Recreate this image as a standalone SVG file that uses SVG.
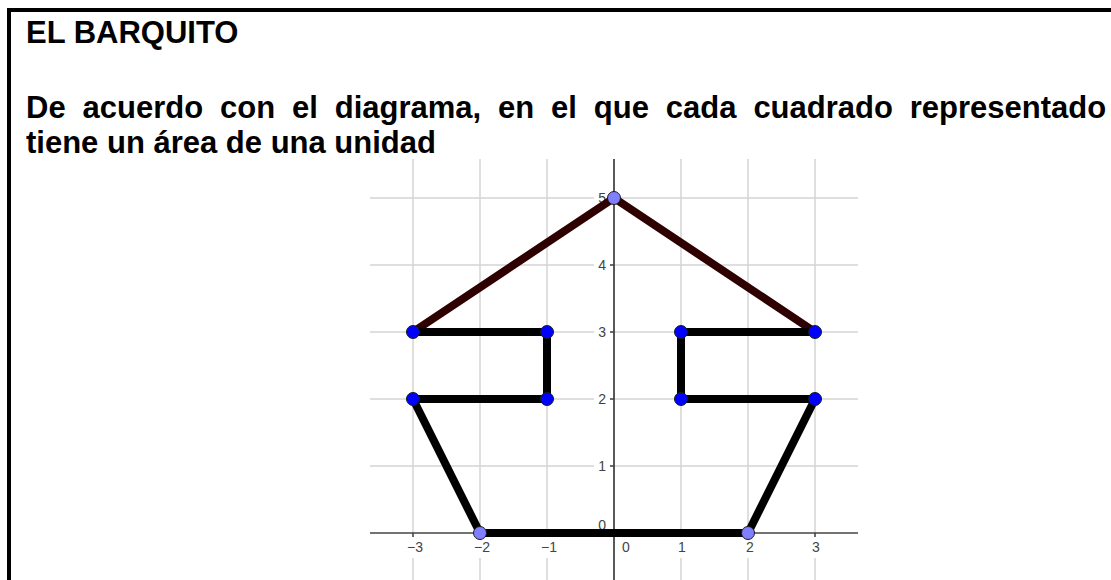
<svg xmlns="http://www.w3.org/2000/svg" width="1111" height="580" viewBox="0 0 1111 580">
<style>
.txt{font-family:"Liberation Sans",Arial,sans-serif;font-weight:bold;font-size:31px;fill:#000}
.grid line{stroke:#d4d4d4;stroke-width:1.5}
.axis{stroke:#444;stroke-width:1.5}
.yaxis{stroke:#222;stroke-width:1.5}
.lbl{font-family:"Liberation Sans",Arial,sans-serif;font-size:14px;fill:#444}
.seg{stroke:#000;stroke-width:8;stroke-linecap:round}
.roof{stroke:#2e0000;stroke-width:8;stroke-linecap:round}
.pt{fill:#0000ff;stroke:#1a1a1a;stroke-width:1}
.pt2{fill:#7f7fff;stroke:#1a1a1a;stroke-width:1}
</style>
<rect width="1111" height="580" fill="#fff"/>
<g id="frame">
<rect x="7" y="8" width="1104" height="4" fill="#000"/>
<rect x="7" y="8" width="4" height="572" fill="#000"/>
</g>
<g id="texts">
<text class="txt" x="26" y="43">EL BARQUITO</text>
<text class="txt" x="26" y="118" word-spacing="8.27">De acuerdo con el diagrama, en el que cada cuadrado representado</text>
<text class="txt" x="26" y="153">tiene un área de una unidad</text>
</g>
<g id="grid" class="grid">
<line x1="413" y1="159" x2="413" y2="580"/>
<line x1="480" y1="159" x2="480" y2="580"/>
<line x1="547" y1="159" x2="547" y2="580"/>
<line x1="681" y1="159" x2="681" y2="580"/>
<line x1="748" y1="159" x2="748" y2="580"/>
<line x1="815" y1="159" x2="815" y2="580"/>
<line x1="370" y1="198" x2="858" y2="198"/>
<line x1="370" y1="265" x2="858" y2="265"/>
<line x1="370" y1="332" x2="858" y2="332"/>
<line x1="370" y1="399" x2="858" y2="399"/>
<line x1="370" y1="466" x2="858" y2="466"/>
</g>
<g id="label-bg" fill="#fff">
<rect x="405" y="537" width="18" height="21"/>
<rect x="472" y="537" width="18" height="21"/>
<rect x="539" y="537" width="18" height="21"/>
<rect x="674" y="537" width="14" height="21"/>
<rect x="741" y="537" width="14" height="21"/>
<rect x="808" y="537" width="14" height="21"/>
<rect x="594" y="190" width="16" height="17"/>
<rect x="594" y="257" width="16" height="17"/>
<rect x="594" y="324" width="16" height="17"/>
<rect x="594" y="391" width="16" height="17"/>
<rect x="594" y="458" width="16" height="17"/>
</g>
<g id="axes">
<line class="axis" x1="370" y1="533" x2="858" y2="533"/>
<line class="yaxis" x1="614" y1="159" x2="614" y2="580"/>
<g class="axis">
<line x1="413" y1="533" x2="413" y2="537"/>
<line x1="480" y1="533" x2="480" y2="537"/>
<line x1="547" y1="533" x2="547" y2="537"/>
<line x1="681" y1="533" x2="681" y2="537"/>
<line x1="748" y1="533" x2="748" y2="537"/>
<line x1="815" y1="533" x2="815" y2="537"/>
<line x1="610" y1="198" x2="614" y2="198"/>
<line x1="610" y1="265" x2="614" y2="265"/>
<line x1="610" y1="332" x2="614" y2="332"/>
<line x1="610" y1="399" x2="614" y2="399"/>
<line x1="610" y1="466" x2="614" y2="466"/>
</g>
<g class="lbl" text-anchor="middle">
<text x="415" y="552">−3</text>
<text x="482" y="552">−2</text>
<text x="549" y="552">−1</text>
<text x="626" y="552">0</text>
<text x="682" y="552">1</text>
<text x="750" y="552">2</text>
<text x="816" y="552">3</text>
</g>
<g class="lbl" text-anchor="end">
<text x="606" y="203">5</text>
<text x="606" y="270">4</text>
<text x="606" y="337">3</text>
<text x="606" y="404">2</text>
<text x="606" y="471">1</text>
<text x="606" y="530">0</text>
</g>
</g>
<g id="connectors">
<line class="roof" x1="413" y1="332" x2="614" y2="198"/>
<line class="roof" x1="614" y1="198" x2="815" y2="332"/>
<line class="seg" x1="413" y1="332" x2="547" y2="332"/>
<line class="seg" x1="547" y1="332" x2="547" y2="399"/>
<line class="seg" x1="547" y1="399" x2="413" y2="399"/>
<line class="seg" x1="413" y1="399" x2="480" y2="533"/>
<line class="seg" x1="480" y1="533" x2="748" y2="533"/>
<line class="seg" x1="748" y1="533" x2="815" y2="399"/>
<line class="seg" x1="815" y1="399" x2="681" y2="399"/>
<line class="seg" x1="681" y1="399" x2="681" y2="332"/>
<line class="seg" x1="681" y1="332" x2="815" y2="332"/>
</g>
<g id="node-A"><circle class="pt" cx="413" cy="332" r="6.5"/></g>
<g id="node-B"><circle class="pt" cx="547" cy="332" r="6.5"/></g>
<g id="node-C"><circle class="pt" cx="547" cy="399" r="6.5"/></g>
<g id="node-D"><circle class="pt" cx="413" cy="399" r="6.5"/></g>
<g id="node-E"><circle class="pt2" cx="480" cy="533" r="6.5"/></g>
<g id="node-F"><circle class="pt2" cx="748" cy="533" r="6.5"/></g>
<g id="node-G"><circle class="pt" cx="815" cy="399" r="6.5"/></g>
<g id="node-H"><circle class="pt" cx="681" cy="399" r="6.5"/></g>
<g id="node-I"><circle class="pt" cx="681" cy="332" r="6.5"/></g>
<g id="node-J"><circle class="pt" cx="815" cy="332" r="6.5"/></g>
<g id="node-K"><circle class="pt2" cx="614" cy="198" r="6.5"/></g>
</svg>
